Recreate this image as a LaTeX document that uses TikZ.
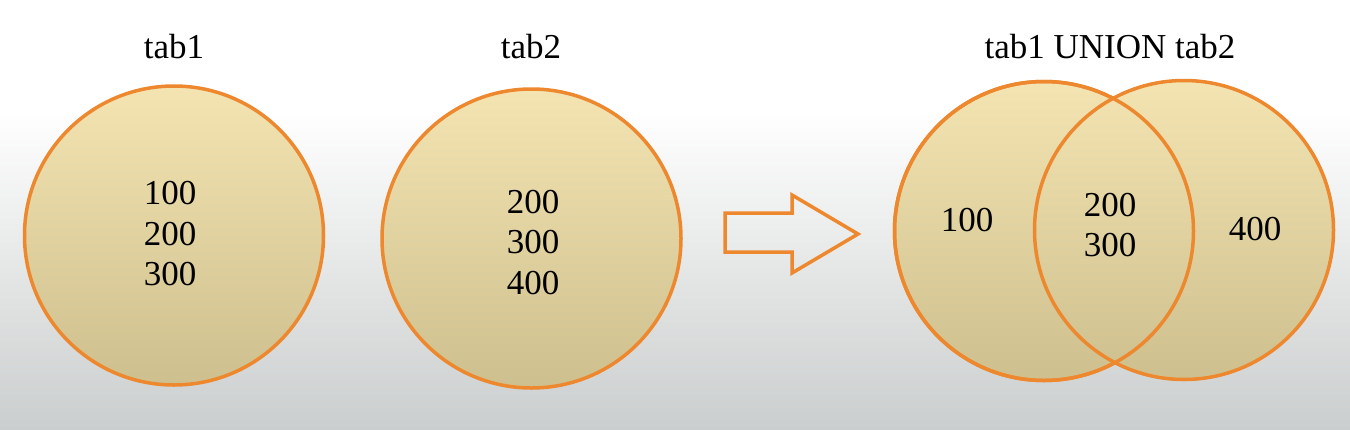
\documentclass[tikz,border=0pt]{standalone}
\usepackage{fontspec}
\setmainfont{Liberation Serif}
\definecolor{ring}{RGB}{238,136,46}
\definecolor{filltop}{RGB}{243,228,178}
\definecolor{fillbot}{RGB}{206,192,142}
\definecolor{bgbot}{RGB}{203,206,206}
\begin{document}
\begin{tikzpicture}[x=1pt,y=-1pt,
  setcircle/.style={circle, inner sep=0pt, minimum size=299pt, line width=3.5pt, draw=ring, top color=filltop, bottom color=fillbot},
  outline/.style={circle, inner sep=0pt, minimum size=299pt, line width=3.5pt, draw=ring},
  lbl/.style={font=\fontsize{35}{40.5}\selectfont, inner sep=0pt, align=center}]
\useasboundingbox (0,0) rectangle (1350,429);
\fill[white] (0,0) rectangle (1350,110);
\shade[top color=white, bottom color=bgbot] (0,110) rectangle (1350,429);
% titles
\node[lbl] (t1) at (174,47) {tab1};
\node[lbl] (t2) at (531,47) {tab2};
\node[lbl] (t3) at (1110,47) {tab1 UNION tab2};
% left circles
\node[setcircle] (c1) at (174,235.5) {};
\node[lbl] (c1txt) at (170,234) {100\\200\\300};
\node[setcircle] (c2) at (531.5,238.5) {};
\node[lbl] (c2txt) at (533,242.5) {200\\300\\400};
% arrow
\draw[ring, line width=3.5pt, line join=miter]
  (725,213) -- (792,213) -- (792,195) -- (858,234) -- (792,273) -- (792,252) -- (725,252) -- cycle;
% venn
\node[setcircle] (v1) at (1044,231) {};
\node[setcircle] (v2) at (1184,230) {};
\node[outline] at (v1) {};
\node[lbl] (n100) at (967,220) {100};
\node[lbl] (n23) at (1110,225) {200\\300};
\node[lbl] (n400) at (1255,229) {400};
\end{tikzpicture}
\end{document}
